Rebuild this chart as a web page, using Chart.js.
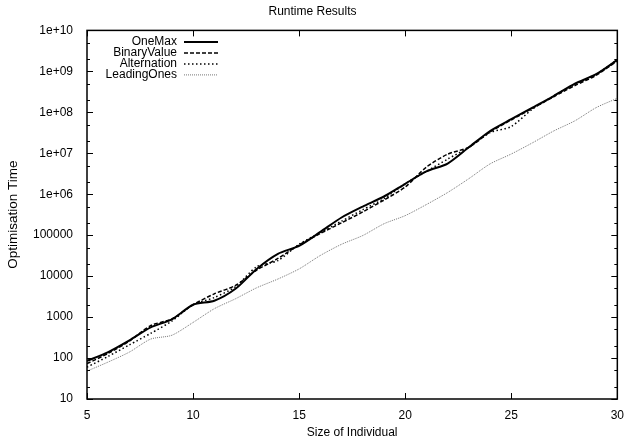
<!DOCTYPE html>
<html>
<head>
<meta charset="utf-8">
<title>Runtime Results</title>
<script src="https://cdn.jsdelivr.net/npm/chart.js@4.4.1/dist/chart.umd.min.js"></script>
<style>
  body { margin: 0; background: #fff; }
  #wrap { width: 625px; height: 443px; position: relative; }
</style>
</head>
<body>
<div id="wrap"><canvas id="runtimeChart"></canvas></div>
<script>
// Runtime results, log y axis

const sizes = [5, 6, 7, 8, 9, 10, 11, 12, 13, 14, 15, 16, 17, 18, 19, 20, 21, 22, 23, 24, 25, 26, 27, 28, 29, 30];

const oneMax = [85, 140, 270, 560, 880, 2000, 2500, 4900, 15000, 35000, 55000, 120000, 270000, 500000, 880000,
  1.8e6, 3.6e6, 5.6e6, 1.4e7, 3.5e7, 6.8e7, 1.3e8, 2.5e8, 5e8, 8.5e8, 1.9e9];
const binaryValue = [73, 130, 260, 620, 900, 2000, 3700, 5900, 14000, 27000, 58000, 110000, 200000, 370000, 720000,
  1.5e6, 4.6e6, 9.5e6, 1.4e7, 3.3e7, 6.5e7, 1.25e8, 2.4e8, 4.5e8, 8e8, 1.8e9];
const alternation = [60, 110, 210, 400, 800, 2000, 3000, 5500, 17000, 24000, 60000, 115000, 220000, 420000, 780000,
  1.8e6, 3.6e6, 7.2e6, 1.4e7, 3.2e7, 4.5e7, 1.2e8, 2.5e8, 4.8e8, 8.5e8, 1.9e9];
const leadingOnes = [48, 80, 140, 290, 360, 740, 1600, 2800, 5200, 8500, 15000, 32000, 60000, 98000, 190000,
  300000, 560000, 1.1e6, 2.4e6, 5.5e6, 9.6e6, 1.8e7, 3.5e7, 6.2e7, 1.3e8, 2.2e8];

const xMajorTicks = [5, 10, 15, 20, 25, 30];
const yMajorTicks = [10, 100, 1000, 10000, 100000, 1e6, 1e7, 1e8, 1e9, 1e10];
const yTickLabels = ['10', '100', '1000', '10000', '100000', '1e+06', '1e+07', '1e+08', '1e+09', '1e+10'];
const yMinorTicks = [20, 50, 200, 500, 2000, 5000, 2e4, 5e4, 2e5, 5e5, 2e6, 5e6, 2e7, 5e7, 2e8, 5e8, 2e9, 5e9];

const FONT = '"Liberation Sans", Arial, Helvetica, sans-serif';
Chart.defaults.font.family = FONT;
Chart.defaults.font.size = 12;
Chart.defaults.color = '#000';

function pts(values) {
  return sizes.map((s, i) => ({ x: s, y: values[i] }));
}

// box round the plot with inward tics, like gnuplot
const frameTicks = {
  id: 'frameTicks',
  afterDatasetsDraw(chart) {
    const { ctx, chartArea: a, scales: { x, y } } = chart;
    ctx.save();
    ctx.strokeStyle = '#000';
    ctx.lineWidth = 1;
    ctx.setLineDash([]);
    ctx.beginPath();
    xMajorTicks.forEach(v => {
      const px = Math.round(x.getPixelForValue(v)) + 0.5;
      ctx.moveTo(px, a.bottom); ctx.lineTo(px, a.bottom - 6);
      ctx.moveTo(px, a.top); ctx.lineTo(px, a.top + 6);
    });
    yMajorTicks.forEach(v => {
      const py = Math.round(y.getPixelForValue(v)) + 0.5;
      ctx.moveTo(a.left, py); ctx.lineTo(a.left + 6, py);
      ctx.moveTo(a.right, py); ctx.lineTo(a.right - 6, py);
    });
    yMinorTicks.forEach(v => {
      const py = Math.round(y.getPixelForValue(v)) + 0.5;
      ctx.moveTo(a.left, py); ctx.lineTo(a.left + 3, py);
      ctx.moveTo(a.right, py); ctx.lineTo(a.right - 3, py);
    });
    ctx.stroke();
    ctx.lineWidth = 1.5;
    ctx.strokeRect(a.left, a.top, a.right - a.left, a.bottom - a.top);
    ctx.restore();
  }
};

// key in the top left corner, text right-aligned, sample on the right
const cornerLegend = {
  id: 'cornerLegend',
  afterDraw(chart) {
    const { ctx, chartArea: a } = chart;
    ctx.save();
    ctx.font = '12px ' + FONT;
    ctx.textAlign = 'right';
    ctx.textBaseline = 'middle';
    ctx.fillStyle = '#000';
    chart.data.datasets.forEach((ds, i) => {
      const yy = a.top + 11 + i * 11;
      ctx.fillText(ds.label, a.left + 90, yy);
      ctx.setLineDash(ds.borderDash || []);
      ctx.lineWidth = ds.borderWidth;
      ctx.strokeStyle = ds.borderColor;
      ctx.beginPath();
      ctx.moveTo(a.left + 97, yy + 0.5);
      ctx.lineTo(a.left + 131, yy + 0.5);
      ctx.stroke();
    });
    ctx.restore();
  }
};

new Chart(document.getElementById('runtimeChart'), {
  type: 'line',
  data: {
    datasets: [
      { label: 'OneMax', data: pts(oneMax), borderColor: '#000', borderWidth: 2, borderDash: [] },
      { label: 'BinaryValue', data: pts(binaryValue), borderColor: '#000', borderWidth: 1.5, borderDash: [4, 2] },
      { label: 'Alternation', data: pts(alternation), borderColor: '#000', borderWidth: 1.5, borderDash: [1.5, 2.5] },
      { label: 'LeadingOnes', data: pts(leadingOnes), borderColor: '#777', borderWidth: 1, borderDash: [1, 1] }
    ]
  },
  options: {
    responsive: true,
    maintainAspectRatio: false,
    animation: false,
    layout: { padding: { top: 0, right: 0, bottom: 0, left: 0 } },
    elements: { point: { radius: 0 }, line: { tension: 0.25, fill: false } },
    plugins: {
      legend: { display: false },
      tooltip: { enabled: false },
      title: {
        display: true,
        text: 'Runtime Results',
        font: { size: 12, weight: 'normal' },
        padding: { top: 4, bottom: 12 }
      }
    },
    scales: {
      x: {
        type: 'linear',
        min: 5,
        max: 30,
        grid: { display: false },
        border: { display: false },
        ticks: { stepSize: 5, padding: 1, maxRotation: 0, callback: v => v },
        title: { display: true, text: 'Size of Individual', padding: { top: 0, bottom: 3 } },
        afterFit: s => { s.height = 44; }
      },
      y: {
        type: 'logarithmic',
        min: 10,
        max: 1e10,
        grid: { display: false },
        border: { display: false },
        afterBuildTicks: s => { s.ticks = yMajorTicks.map(v => ({ value: v })); },
        ticks: { padding: 6, callback: (v, i) => yTickLabels[i] },
        title: { display: true, text: 'Optimisation Time', font: { size: 13.5 }, padding: { top: 5, bottom: 0 } },
        afterFit: s => { s.width = 87; }
      }
    }
  },
  plugins: [frameTicks, cornerLegend]
});
</script>
</body>
</html>
